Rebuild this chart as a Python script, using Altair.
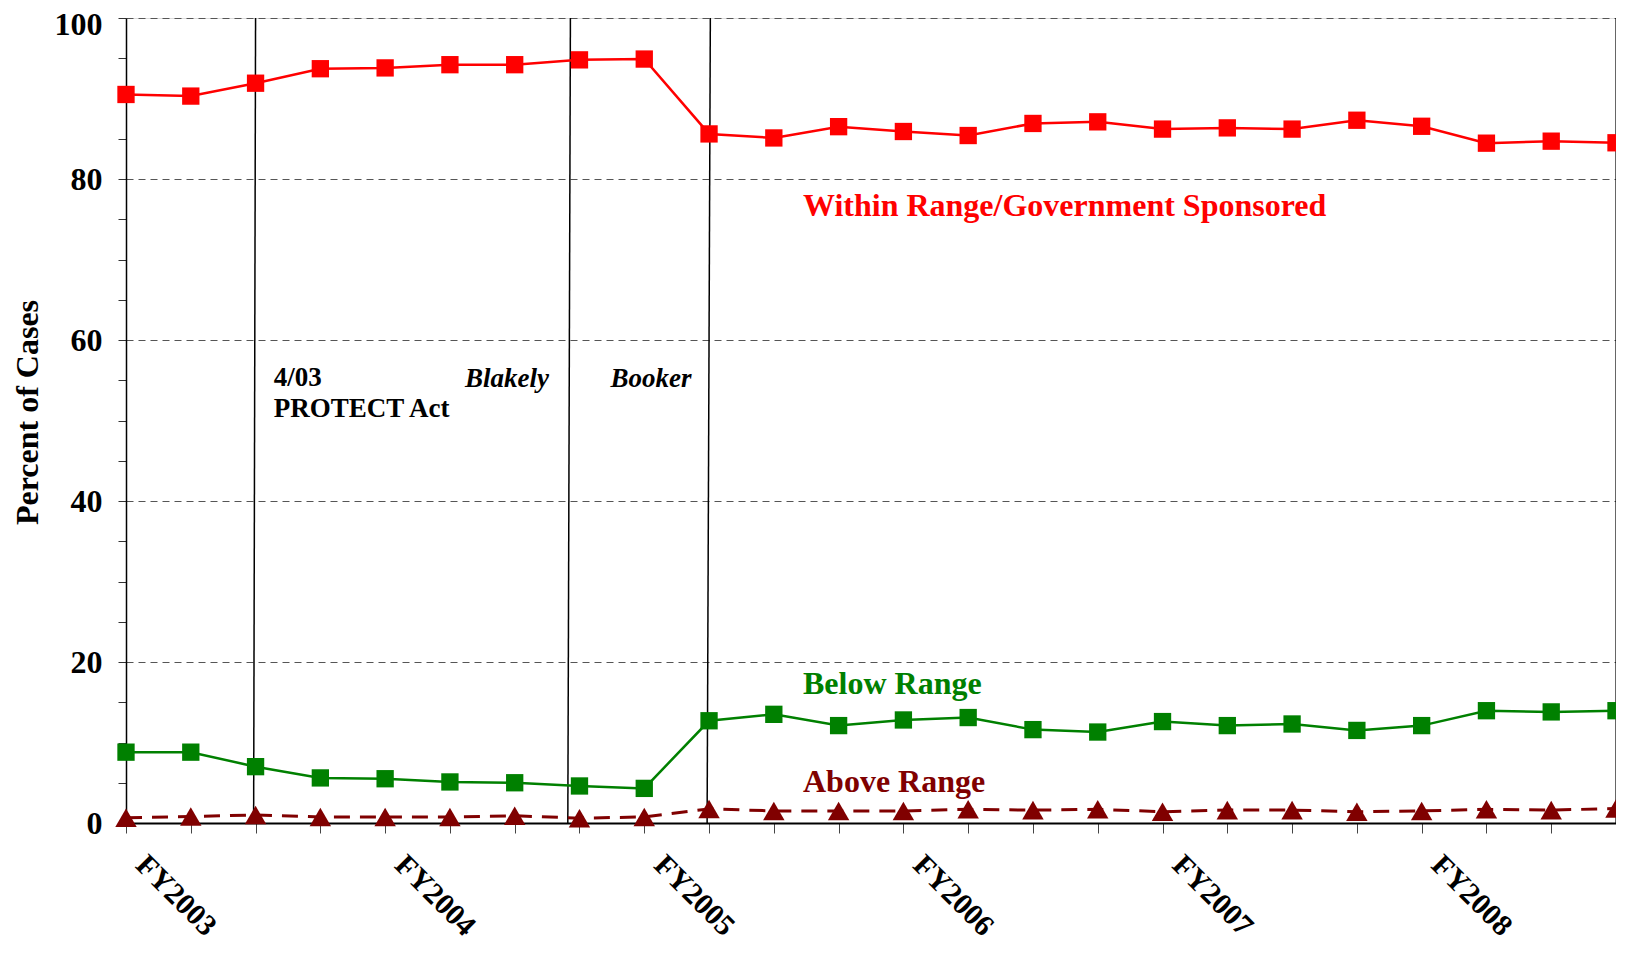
import altair as alt
import pandas as pd

# ---- data ----
quarter_index = list(range(24))          # FY2003 Q1 ... FY2008 Q4
fiscal_years = ["FY2003", "FY2004", "FY2005", "FY2006", "FY2007", "FY2008"]
within_range = [90.5, 90.3, 91.9, 93.7, 93.8, 94.2, 94.2, 94.8, 94.9, 85.6, 85.1, 86.5,
                85.9, 85.4, 86.9, 87.1, 86.2, 86.35, 86.2, 87.3, 86.55, 84.45, 84.7, 84.5]
below_range = [8.8, 8.8, 7.0, 5.6, 5.5, 5.1, 5.0, 4.6, 4.3, 12.7, 13.5, 12.1,
               12.8, 13.1, 11.6, 11.3, 12.6, 12.1, 12.3, 11.5, 12.1, 13.95, 13.8, 13.95]
above_range = [0.65, 0.8, 1.0, 0.75, 0.75, 0.75, 0.9, 0.6, 0.75, 1.75, 1.5, 1.5,
               1.5, 1.7, 1.6, 1.7, 1.4, 1.6, 1.6, 1.4, 1.5, 1.7, 1.6, 1.8]

event_names = ["PROTECT Act", "Blakely", "Booker"]
event_x_top = [2.0, 6.86, 9.02]
event_x_bottom = [1.97, 6.82, 8.97]

FONT = "Liberation Serif"

df = pd.DataFrame({"q": quarter_index, "within": within_range,
                   "below": below_range, "above": above_range})
events = pd.DataFrame({"name": event_names, "xt": event_x_top, "xb": event_x_bottom})
one = pd.DataFrame({"a": [0]})

x_scale = alt.Scale(domain=[0, 23], nice=False, zero=False)
y_scale = alt.Scale(domain=[0, 100], nice=False)

fy_expr = "datum.value % 4 == 0 ? 'FY' + (2003 + datum.value / 4) : ''"

x_axis = alt.Axis(values=quarter_index, labelExpr=fy_expr, labelAngle=45,
                  labelAlign="left", labelBaseline="middle", labelFont=FONT,
                  labelFontSize=30, labelFontWeight="bold", labelColor="black",
                  labelPadding=27, labelOffset=14, labelOverlap=False,
                  labelFlush=False, labelBound=False,
                  tickSize=10, tickColor="#444", tickWidth=1, domainColor="black",
                  domainWidth=2, grid=False, title=None)

y_axis = alt.Axis(values=list(range(0, 101, 5)),
                  labelExpr="datum.value % 20 == 0 ? datum.label : ''",
                  labelFont=FONT, labelFontSize=32, labelFontWeight="bold",
                  labelColor="black", labelPadding=16, labelOverlap=False, labelFlush=False,
                  labelOffset={"condition": {"test": "datum.value == 100", "value": 6}, "value": 0},
                  tickSize=8, tickColor="#333", tickWidth=1,
                  domainColor="black", domainWidth=1.5,
                  grid=True, gridColor="#555", gridDash=[7, 5], gridWidth=1,
                  gridOpacity={"condition": {"test": "datum.value % 20 == 0", "value": 1}, "value": 0},
                  title="Percent of Cases", titleFont=FONT, titleFontSize=32,
                  titleFontWeight="bold", titleColor="black", titleAngle=-90,
                  titleAlign="center", titleBaseline="middle", titleX=-99, titleY=394)

base = alt.Chart(df)

# invisible carrier for the axes so the grid sits beneath everything
axes = base.mark_point(opacity=0).encode(
    x=alt.X("q:Q", scale=x_scale, axis=x_axis),
    y=alt.Y("within:Q", scale=y_scale, axis=y_axis))

event_rules = alt.Chart(events).mark_rule(color="black", strokeWidth=1.5).encode(
    x=alt.X("xt:Q", scale=x_scale),
    x2="xb:Q",
    y=alt.datum(100),
    y2=alt.datum(0))

right_border = alt.Chart(one).mark_rule(color="black", strokeWidth=1.2).encode(
    x=alt.datum(23), y=alt.datum(100), y2=alt.datum(0))


def series(field, color, shape, size, dash=None, width=2.5):
    line_kw = dict(color=color, strokeWidth=width)
    if dash:
        line_kw["strokeDash"] = dash
    line = base.mark_line(**line_kw).encode(
        x=alt.X("q:Q", scale=x_scale), y=alt.Y(f"{field}:Q", scale=y_scale))
    pts = base.mark_point(shape=shape, filled=True, color=color, size=size, opacity=1).encode(
        x=alt.X("q:Q", scale=x_scale), y=alt.Y(f"{field}:Q", scale=y_scale))
    return line + pts


red = series("within", "#FF0000", "square", 300)
green = series("below", "#008000", "square", 300)
dark = series("above", "#800000", "triangle-up", 460, dash=[16, 10], width=3)


def label(text, x, y, color, size=32, style="normal", align="left"):
    return alt.Chart(one).mark_text(
        text=text, align=align, baseline="alphabetic", font=FONT, fontSize=size,
        fontWeight="bold", fontStyle=style, color=color).encode(
        x=alt.datum(x), y=alt.datum(y))


labels = [
    label("Within Range/Government Sponsored", 10.45, 75.4, "#FF0000"),
    label("Below Range", 10.45, 16.0, "#008000"),
    label("Above Range", 10.45, 3.85, "#800000"),
    label("4/03", 2.28, 54.3, "black", size=27),
    label("PROTECT Act", 2.28, 50.4, "black", size=27),
    label("Blakely", 6.53, 54.2, "black", size=27, style="italic", align="right"),
    label("Booker", 8.73, 54.2, "black", size=27, style="italic", align="right"),
]

chart = alt.layer(axes, event_rules, right_border, red, green, dark, *labels).properties(
    width=1490, height=805,
    autosize=alt.AutoSizeParams(type="none"),
    padding={"left": 118, "top": 10, "right": 0, "bottom": 118},
).configure_view(stroke=None).configure(background="white")

chart.save("out.html", embed_options={"renderer": "svg", "actions": False})
